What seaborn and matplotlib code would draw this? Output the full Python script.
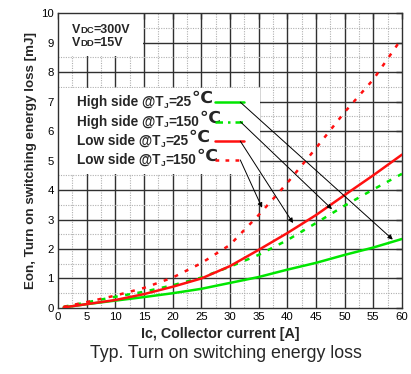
import numpy as np
import pandas as pd
import seaborn as sns
import matplotlib.pyplot as plt
from matplotlib.patches import Rectangle

sns.set_theme(style="white")
plt.rcParams['font.family'] = ['Liberation Sans', 'DejaVu Sans']

# ---- data ----
ic = [1, 5, 10, 15, 20, 25, 30, 35, 40, 45, 50, 55, 60]
high_25 = [0.02, 0.13, 0.25, 0.37, 0.5, 0.65, 0.85, 1.05, 1.3, 1.53, 1.8, 2.05, 2.34]
high_150 = [0.04, 0.19, 0.38, 0.55, 0.77, 1.03, 1.4, 1.8, 2.3, 2.88, 3.47, 4.02, 4.55]
low_25 = [0.02, 0.13, 0.27, 0.47, 0.72, 1.0, 1.42, 1.97, 2.54, 3.15, 3.83, 4.5, 5.2]
low_150 = [0.04, 0.2, 0.42, 0.68, 1.03, 1.52, 2.14, 3.15, 4.24, 5.42, 6.64, 7.75, 9.15]

sides = ["High side @T", "High side @T", "Low side @T", "Low side @T"]
temps = ["=25", "=150", "=25", "=150"]
series = [high_25, high_150, low_25, low_150]
colors = ["#00e600", "#00e600", "#ff1010", "#ff1010"]
styles = ["-", (0, (2.0, 3.0)), "-", (0, (1.6, 3.0))]
leg_styles = ["-", (0, (3.0, 2.0, 1.0, 2.0)), "-", (0, (1.5, 2.5))]
leg_y = [6.98, 6.32, 5.66, 5.02]
arrow_end = [(58.4, 2.32), (47.8, 3.35), (41.0, 2.88), (35.6, 3.4)]

fig = plt.figure(figsize=(4.11, 3.74), dpi=100)
ax = fig.add_axes([0.141, 0.1765, 0.837, 0.7885])

for vals, c, ls in zip(series, colors, styles):
    df = pd.DataFrame({"Ic": ic, "E": vals})
    sns.lineplot(data=df, x="Ic", y="E", ax=ax, color=c, linestyle=ls, lw=1.8, zorder=4)

ax.set_xlim(0, 60)
ax.set_ylim(0, 10)
ax.set_xticks(np.arange(0, 61, 5))
ax.set_yticks(np.arange(0, 11, 1))

# grid drawn as plain lines so that the white boxes can cover them
for xv in np.arange(2.5, 60, 2.5):
    major = abs(xv % 5) < 1e-9
    ax.axvline(xv, color='#303030' if major else '#b0b0b0', lw=1.0 if major else 0.8,
               ls='-' if major else (0, (1, 1.2)), zorder=1)
for yv in np.arange(0.5, 10, 0.5):
    major = abs(yv % 1) < 1e-9
    ax.axhline(yv, color='#303030' if major else '#b0b0b0', lw=1.0 if major else 0.8,
               ls='-' if major else (0, (1, 1.2)), zorder=1)

ax.tick_params(axis='both', which='major', direction='in', length=4, width=1,
               labelsize=8.2, top=True, right=True, pad=3, colors='#303030', labelcolor='black')
for s in ax.spines.values():
    s.set_color('#303030')
    s.set_linewidth(1.0)

ax.set_xlabel("Ic, Collector current [A]", fontsize=10.3, fontweight='bold')
ax.xaxis.set_label_coords(0.471, -0.064)
ax.set_ylabel("Eon, Turn on switching energy loss [mJ]", fontsize=9.6, fontweight='bold', labelpad=3)

# white boxes
ax.add_patch(Rectangle((0.0, 4.55), 35.3, 2.9, facecolor='white', edgecolor='none', zorder=2))
ax.add_patch(Rectangle((0.0, 8.55), 14.9, 1.45, facecolor='white', edgecolor='none', zorder=2))

# condition text (small caps subscripts)
for yy, main, sub, rest in [(9.42, "V", "DC", "=300V"), (8.98, "V", "DD", "=15V")]:
    t0 = ax.text(2.4, yy, main, fontsize=9, fontweight='bold', va='center', zorder=5)
    t1 = ax.annotate(sub, xy=(1, 0), xycoords=t0, xytext=(0, 0.9), textcoords='offset points',
                     fontsize=6.8, fontweight='bold', va='bottom', ha='left', zorder=5)
    ax.annotate(rest, xy=(1, 0), xycoords=(t1, t0), fontsize=9, fontweight='bold',
                va='bottom', ha='left', zorder=5)

for side, temp, y, c, ls, (ex, ey) in zip(sides, temps, leg_y, colors, leg_styles, arrow_end):
    ta = ax.text(3.3, y, side, fontsize=9.8, fontweight='bold', ha='left', va='center', zorder=5)
    tj = ax.annotate("J", xy=(1, 0), xycoords=ta, xytext=(0.3, -0.5), textcoords='offset points',
                     fontsize=6, fontweight='bold', va='bottom', ha='left', zorder=5)
    tt = ax.annotate(temp, xy=(1, 0), xycoords=(tj, ta), fontsize=9.8, fontweight='bold',
                     va='bottom', ha='left', zorder=5)
    ax.annotate("\u2103", xy=(1, 0), xycoords=(tt, ta), xytext=(0.2, 1.5), textcoords='offset points',
                fontsize=12.5, fontweight='heavy', va='bottom', ha='left',
                family=['DejaVu Sans'], zorder=5)
    ax.plot([27.4, 32.5], [y, y], color=c, linestyle=ls, lw=1.8, zorder=5)
    ax.annotate("", xy=(ex, ey), xytext=(31.8, y),
                arrowprops=dict(arrowstyle='-|>', color='black', lw=0.7,
                                mutation_scale=7, shrinkA=0, shrinkB=0), zorder=6)

fig.text(0.55, 0.055, "Typ. Turn on switching energy loss", ha='center', va='center', fontsize=12.8)

fig.savefig("out.png", dpi=100)
